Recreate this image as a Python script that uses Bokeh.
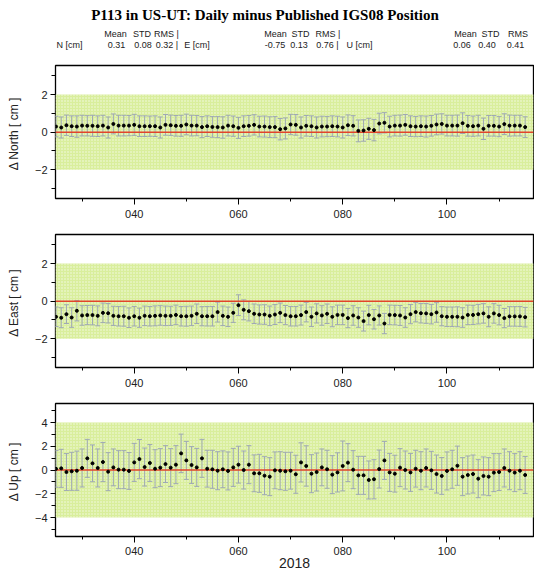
from bokeh.plotting import figure
from bokeh.layouts import column
from bokeh.models import (Range1d, FixedTicker, LinearAxis, BoxAnnotation, Span,
                          Whisker, TeeHead, ColumnDataSource)
from bokeh.core.properties import value
from bokeh.embed import file_html
from bokeh.resources import INLINE

# ---------------- data ----------------
title_text = "P113 in US-UT: Daily minus Published IGS08 Position"
year_text = "2018"
components = ["N [cm]", "E [cm]", "U [cm]"]
means = ["0.31", "-0.75", "0.06"]
stds = ["0.08", "0.13", "0.40"]
rmss = ["0.32", "0.76", "0.41"]

days = list(range(25, 116))

north = [0.30, 0.25, 0.37, 0.32, 0.30, 0.35, 0.34, 0.34, 0.32, 0.35,
         0.25, 0.44, 0.35, 0.35, 0.35, 0.39, 0.32, 0.32, 0.32, 0.32,
         0.25, 0.39, 0.37, 0.34, 0.34, 0.41, 0.35, 0.35, 0.27, 0.32,
         0.28, 0.27, 0.25, 0.35, 0.32, 0.23, 0.32, 0.34, 0.39, 0.30,
         0.30, 0.27, 0.27, 0.16, 0.20, 0.41, 0.39, 0.25, 0.34, 0.32,
         0.25, 0.30, 0.30, 0.32, 0.30, 0.25, 0.37, 0.34, 0.07, 0.09,
         0.18, 0.11, 0.46, 0.50, 0.30, 0.35, 0.35, 0.39, 0.32, 0.30,
         0.32, 0.30, 0.34, 0.41, 0.44, 0.35, 0.35, 0.35, 0.48, 0.34,
         0.32, 0.35, 0.18, 0.34, 0.34, 0.30, 0.43, 0.35, 0.35, 0.35,
         0.27]
north_err = [0.55, 0.56, 0.54, 0.55, 0.57, 0.55, 0.54, 0.56, 0.55, 0.55,
             0.56, 0.53, 0.55, 0.55, 0.54, 0.56, 0.55, 0.55, 0.54, 0.55,
             0.56, 0.55, 0.54, 0.55, 0.56, 0.55, 0.55, 0.54, 0.56, 0.55,
             0.55, 0.56, 0.57, 0.55, 0.54, 0.56, 0.55, 0.55, 0.54, 0.55,
             0.56, 0.55, 0.56, 0.57, 0.56, 0.54, 0.55, 0.56, 0.55, 0.55,
             0.56, 0.55, 0.54, 0.55, 0.55, 0.56, 0.55, 0.54, 0.58, 0.57,
             0.56, 0.57, 0.55, 0.54, 0.55, 0.55, 0.56, 0.55, 0.55, 0.54,
             0.55, 0.56, 0.55, 0.55, 0.54, 0.55, 0.55, 0.56, 0.55, 0.55,
             0.54, 0.55, 0.57, 0.55, 0.55, 0.54, 0.55, 0.56, 0.55, 0.55,
             0.55]

east = [-0.83, -0.88, -0.69, -0.87, -0.51, -0.76, -0.74, -0.74, -0.78, -0.62,
        -0.64, -0.78, -0.80, -0.80, -0.88, -0.80, -0.88, -0.78, -0.80, -0.78,
        -0.76, -0.78, -0.78, -0.73, -0.80, -0.80, -0.78, -0.67, -0.80, -0.80,
        -0.80, -0.58, -0.78, -0.83, -0.62, -0.21, -0.46, -0.53, -0.67, -0.71,
        -0.71, -0.78, -0.71, -0.62, -0.74, -0.80, -0.80, -0.74, -0.58, -0.83,
        -0.65, -0.76, -0.67, -0.83, -0.73, -0.73, -0.90, -0.76, -0.87, -1.06,
        -0.74, -0.96, -0.76, -1.19, -0.73, -0.74, -0.76, -0.87, -0.69, -0.58,
        -0.64, -0.65, -0.69, -0.60, -0.80, -0.83, -0.83, -0.83, -0.87, -0.73,
        -0.73, -0.69, -0.65, -0.83, -0.65, -0.74, -0.90, -0.81, -0.81, -0.81,
        -0.85]
east_err = [0.52, 0.53, 0.50, 0.52, 0.54, 0.52, 0.51, 0.52, 0.53, 0.52,
            0.52, 0.51, 0.52, 0.53, 0.52, 0.52, 0.51, 0.52, 0.52, 0.53,
            0.52, 0.52, 0.51, 0.52, 0.52, 0.53, 0.52, 0.52, 0.51, 0.52,
            0.52, 0.53, 0.52, 0.52, 0.51, 0.55, 0.53, 0.52, 0.52, 0.51,
            0.52, 0.52, 0.53, 0.52, 0.51, 0.52, 0.52, 0.53, 0.52, 0.52,
            0.51, 0.52, 0.52, 0.53, 0.52, 0.52, 0.51, 0.52, 0.52, 0.53,
            0.52, 0.52, 0.51, 0.54, 0.52, 0.52, 0.53, 0.52, 0.51, 0.52,
            0.52, 0.53, 0.52, 0.52, 0.51, 0.52, 0.52, 0.53, 0.52, 0.52,
            0.51, 0.52, 0.52, 0.53, 0.52, 0.52, 0.51, 0.52, 0.52, 0.53,
            0.52]

up = [0.10, 0.14, -0.17, -0.11, -0.06, 0.17, 0.98, 0.56, 0.17, 0.67,
      -0.14, 0.22, 0.03, 0.03, -0.08, 0.64, 0.92, 0.25, 0.59, 0.11,
      0.20, 0.50, 0.20, 0.45, 1.40, 0.81, 0.42, 0.22, 0.98, 0.11,
      0.06, -0.06, 0.06, -0.08, 0.22, 0.45, 0.00, 0.45, -0.28, -0.28,
      -0.48, -0.56, -0.03, -0.06, -0.11, -0.06, -0.36, 0.64, 0.34, -0.31,
      -0.17, 0.22, 0.06, -0.39, -0.20, 0.34, 0.62, 0.03, -0.45, -0.45,
      -0.84, -0.78, 0.08, 0.81, -0.20, -0.31, 0.20, 0.00, -0.20, 0.11,
      -0.06, 0.17, -0.03, -0.34, -0.50, -0.08, 0.06, 0.36, -0.56, -0.42,
      -0.34, -0.73, -0.50, -0.56, -0.22, -0.17, 0.17, -0.06, -0.22, -0.06,
      -0.42]
up_err = [1.55, 1.60, 1.55, 1.60, 1.65, 1.60, 1.60, 1.55, 1.60, 1.65,
          1.60, 1.55, 1.60, 1.60, 1.55, 1.60, 1.65, 1.60, 1.55, 1.60,
          1.60, 1.55, 1.60, 1.60, 1.62, 1.60, 1.55, 1.60, 1.60, 1.55,
          1.60, 1.60, 1.55, 1.60, 1.60, 1.55, 1.60, 1.60, 1.55, 1.60,
          1.60, 1.60, 1.55, 1.60, 1.60, 1.55, 1.60, 1.65, 1.70, 1.60,
          1.60, 1.55, 1.60, 1.60, 1.65, 2.10, 1.60, 1.60, 1.60, 1.60,
          1.60, 1.65, 1.60, 1.60, 1.60, 1.55, 1.60, 1.60, 1.60, 1.55,
          1.60, 1.60, 1.60, 1.60, 1.55, 1.60, 1.60, 1.65, 1.60, 1.60,
          1.60, 1.60, 1.60, 1.60, 1.60, 1.55, 1.60, 1.60, 1.60, 1.60,
          1.55]

x_major = [40, 60, 80, 100]
x_labels = ["040", "060", "080", "100"]
x_minor = [30, 50, 70, 90, 110]

# ---------------- styling ----------------
SANS = "Liberation Sans"
SERIF = "Liberation Serif"
BAND_FILL = "#d9ee9c"
ERR_COLOR = "#9ea8b4"
ZERO_COLOR = "#e2452b"
W = 534
LEFT = 55
RIGHT = 1
X0, X1 = 24.9, 116.6


def make_panel(ylab, vals, errs, ylim, band, yticks, yminor, height,
               border_bottom, xlabel=None):
    src = ColumnDataSource(dict(
        x=days, y=vals,
        lo=[v - e for v, e in zip(vals, errs)],
        hi=[v + e for v, e in zip(vals, errs)]))
    p = figure(width=W, height=height, x_range=Range1d(X0, X1),
               y_range=Range1d(*ylim), x_axis_type=None, y_axis_type=None,
               output_backend="svg", toolbar_location=None,
               min_border_left=LEFT, min_border_right=RIGHT, min_border_top=8,
               min_border_bottom=border_bottom)
    p.outline_line_color = "black"
    p.outline_line_width = 1.3
    p.background_fill_color = "white"

    xt = FixedTicker(ticks=x_major, minor_ticks=x_minor)
    xb = LinearAxis(ticker=xt, major_label_overrides=dict(zip(x_major, x_labels)))
    xb.major_tick_in = 0
    xb.major_tick_out = 6
    xb.minor_tick_in = 0
    xb.minor_tick_out = 3
    xb.major_label_standoff = 5
    xb.major_label_text_font = SANS
    xb.major_label_text_font_size = "11px"
    xb.major_label_text_color = "#222222"
    xb.axis_line_color = None
    if xlabel:
        xb.major_label_standoff = 4
        xb.axis_label = xlabel
        xb.axis_label_standoff = 0
        xb.axis_label_text_font = SANS
        xb.axis_label_text_font_size = "14px"
        xb.axis_label_text_font_style = "normal"
        xb.axis_label_text_color = "#222222"
    p.add_layout(xb, "below")

    yl = LinearAxis(ticker=FixedTicker(ticks=yticks, minor_ticks=yminor),
                    axis_label=ylab)
    yl.major_tick_in = 0
    yl.major_tick_out = 5
    yl.minor_tick_in = 0
    yl.minor_tick_out = 4
    yl.major_label_standoff = 3
    yl.major_label_text_font = SANS
    yl.major_label_text_font_size = "11px"
    yl.major_label_text_color = "#222222"
    yl.axis_label_text_font = SANS
    yl.axis_label_text_font_size = "12px"
    yl.axis_label_text_font_style = "normal"
    yl.axis_label_text_color = "#222222"
    yl.axis_label_standoff = 11
    yl.axis_line_color = None
    p.add_layout(yl, "left")

    p.add_layout(BoxAnnotation(bottom=-band, top=band, fill_color=BAND_FILL,
                               fill_alpha=1.0, line_color=None,
                               hatch_pattern="dot", hatch_color="white",
                               hatch_alpha=0.75, hatch_scale=3, hatch_weight=1,
                               level="underlay"))
    p.add_layout(Whisker(source=src, base="x", upper="hi", lower="lo",
                         line_color=ERR_COLOR, line_width=1,
                         upper_head=TeeHead(size=5, line_color=ERR_COLOR, line_width=1),
                         lower_head=TeeHead(size=5, line_color=ERR_COLOR, line_width=1),
                         level="underlay"))
    p.add_layout(Span(location=0, dimension="width", line_color=ZERO_COLOR,
                      line_width=1.5, level="underlay"))
    p.scatter("x", "y", source=src, size=3, color="black")
    return p


# ---------------- header ----------------
HDR_H = 57
hdr = figure(width=W, height=HDR_H, x_range=Range1d(LEFT, W - RIGHT),
             y_range=Range1d(HDR_H, 0), x_axis_type=None, y_axis_type=None,
             output_backend="svg", toolbar_location=None,
             min_border_left=LEFT, min_border_right=RIGHT,
             min_border_top=0, min_border_bottom=0)
hdr.outline_line_color = None

hdr.text(x=[264.5], y=[14], text=[title_text], text_font=value(SERIF),
         text_font_style="bold", text_font_size="15px", text_align="center",
         text_baseline="middle", text_color="black")

row1_x = [115, 141.5, 166, 275, 300, 327.5, 465, 490, 517.5]
row1_t = ["Mean", "STD", "RMS |", "Mean", "STD", "RMS |", "Mean", "STD", "RMS"]
hdr.text(x=row1_x, y=[33] * len(row1_x), text=row1_t, text_font=value(SANS),
         text_font_size="9px", text_align="center", text_baseline="middle",
         text_color="#222222")

row2_t, row2_x = [], []
comp_x = [69, 196.5, 359]
val_x = [[116, 142.5, 166.5], [274.5, 298.5, 327], [461.5, 486.5, 515]]
for i, c in enumerate(components):
    row2_t += [c, means[i], stds[i], rmss[i] + (" |" if i < 2 else "")]
    row2_x += [comp_x[i]] + val_x[i]
hdr.text(x=row2_x, y=[44] * len(row2_x), text=row2_t, text_font=value(SANS),
         text_font_size="9px", text_align="center", text_baseline="middle",
         text_color="#222222")

# ---------------- panels ----------------
pn = make_panel("\u0394 North  [ cm ]", north, north_err, (-3.53, 3.55), 2,
                [-2, 0, 2], [-3, -1, 1, 3], 169, 28)
pe = make_panel("\u0394 East  [ cm ]", east, east_err, (-3.53, 3.55), 2,
                [-2, 0, 2], [-3, -1, 1, 3], 169, 28)
pu = make_panel("\u0394 Up  [ cm ]", up, up_err, (-5.6, 5.6), 4,
                [-4, -2, 0, 2, 4], [-5, -3, -1, 1, 3, 5], 180, 39,
                xlabel=year_text)

layout = column(hdr, pn, pe, pu, spacing=0)
open("out.html", "w").write(file_html(layout, INLINE))
